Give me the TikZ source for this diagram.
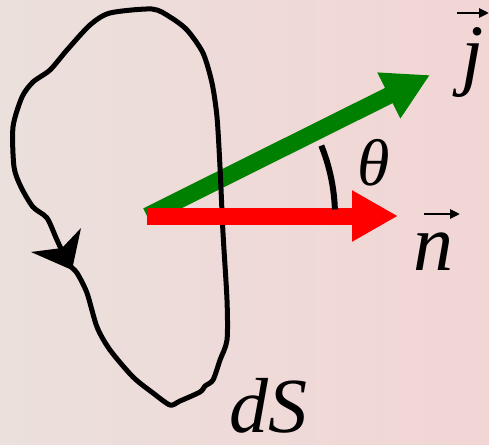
\documentclass[tikz,border=0pt]{standalone}
\usepackage{fontspec}
\setmainfont{Liberation Serif}
\usetikzlibrary{arrows.meta}
\definecolor{bgL}{RGB}{235,224,220}
\definecolor{bgR}{RGB}{242,213,213}
\definecolor{vgreen}{RGB}{0,128,0}
\definecolor{vred}{RGB}{255,0,0}
\tikzset{
  lbl/.style={inner sep=0pt, font=\itshape},
  bigarrow/.style={line width=17pt, -{Triangle[length=46pt,width=48pt]}},
  vecarrow/.style={line width=2.5pt, -{Triangle[length=10pt,width=9pt]}},
  loopline/.style={line width=5pt, line join=round},
}
\begin{document}
\begin{tikzpicture}[x=1pt,y=-1pt]
\useasboundingbox (0,0) rectangle (489,444);
\shade[left color=bgL, right color=bgR] (0,0) rectangle (489,444);
\coordinate (O) at (147,216);
\coordinate (J) at (430,75);
\coordinate (N) at (398,216);
% green vector
\draw[bigarrow, draw=vgreen, fill=vgreen] (O) -- (J);
% loop
\draw[loopline, smooth cycle, tension=0.45] plot coordinates {
 (152,9) (110,13) (90,25) (67,50) (50,70) (33,82) (22,97) (13,127) (14,167)
 (21,187) (33,207) (47,218) (57,240) (68,263) (77,273) (87,293) (97,327)
 (110,350) (133,377) (153,393) (170,405) (180,401) (200,392) (205,386)
 (213,380) (220,360) (227,340) (227,300) (223,233) (220,167) (217,117)
 (212,83) (203,53) (187,30) (170,17)};
\fill (72,270) -- (31,252) -- (62,248) -- (81,228) -- cycle;
% red vector
\draw[bigarrow, draw=vred, fill=vred] (O) -- (N);
% angle
\draw[line width=6pt] (O) ++(-22:188) arc[start angle=-22, end angle=-2, radius=188];
% labels
\node[lbl, anchor=base west, font=\fontsize{66}{66}\selectfont\itshape] (theta) at (357,185) {θ};
\node[lbl, anchor=base west, font=\fontsize{80}{80}\selectfont\itshape] (nlab) at (413,270) {n};
\node[lbl, anchor=base west, font=\fontsize{80}{80}\selectfont\itshape] (jlab) at (461,80) {j};
\node[lbl, anchor=base west, font=\fontsize{78}{78}\selectfont\itshape] (dS) at (229,432) {dS};
\coordinate (n1) at (424,214); \coordinate (n2) at (460,214);
\coordinate (j1) at (457,13); \coordinate (j2) at (489,13);
\draw[vecarrow] (n1) -- (n2);
\draw[vecarrow] (j1) -- (j2);
\end{tikzpicture}
\end{document}
